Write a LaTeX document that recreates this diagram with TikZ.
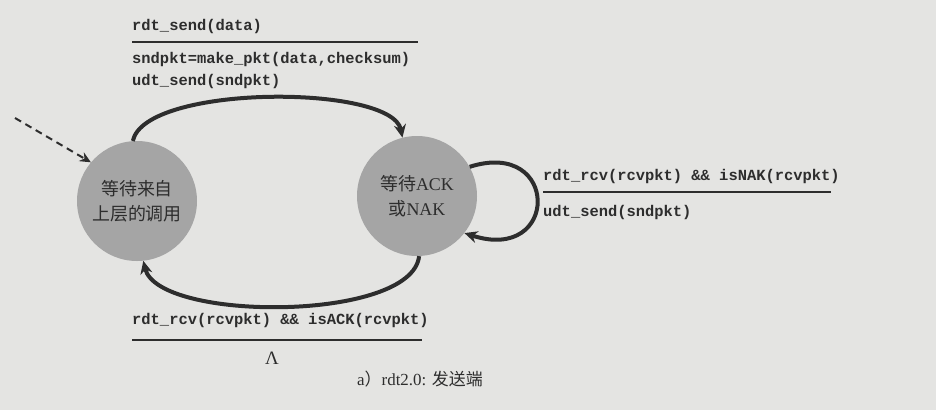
\documentclass[tikz,border=0pt]{standalone}
\usepackage{fontspec}
\setmainfont{Liberation Serif}
\setmonofont{Liberation Mono}
\newfontfamily\cjk{Noto Sans CJK SC}
\usetikzlibrary{arrows.meta}
\definecolor{bg}{RGB}{228,228,226}
\definecolor{circ}{RGB}{165,165,165}
\definecolor{ink}{RGB}{45,45,45}
\begin{document}
\begin{tikzpicture}[x=1bp,y=-1bp,
  state/.style={circle,fill=circ,minimum size=120bp,inner sep=0pt,text=ink,align=center,font=\fontsize{18}{25}\selectfont},
  trans/.style={draw=ink,line width=4bp,-{Stealth[length=13bp,width=12bp]}},
  code/.style={anchor=west,inner sep=0pt,text=ink,font=\ttfamily\bfseries\fontsize{15.5}{18}\selectfont},
  rulel/.style={draw=ink,line width=2bp},
  plain/.style={inner sep=0pt,text=ink}]
\fill[bg] (0,0) rectangle (936,410);
\useasboundingbox (0,0) rectangle (936,410);

% states
\node[state] (L) at (137,201) {{\cjk 等待来自}\\{\cjk 上层的调用}};
\node[state] (R) at (417,196) {{\cjk 等待}ACK\\{\cjk 或}NAK};

% initial dashed arrow
\coordinate (init) at (15,118);
\draw[draw=ink,line width=2bp,dash pattern=on 7bp off 5bp,-{Stealth[length=11bp,width=10bp]}] (init) -- (L.140);

% transitions
\draw[trans] (L.94) .. controls (145,84) and (392,84) .. (R.104);
\draw[trans] (R.-88) .. controls (412,322) and (158,322) .. (L.-84);
\draw[trans] (R.29) .. controls (560,138) and (560,264) .. (R.-38);

% top label
\node[code] (t1) at (132,27) {rdt\_send(data)};
\coordinate (t1a) at (132,42);
\coordinate (t1b) at (418,42);
\draw[rulel] (t1a) -- (t1b);
\node[code] (t2) at (132,60) {sndpkt=make\_pkt(data,checksum)};
\node[code] (t3) at (132,82) {udt\_send(sndpkt)};

% right label
\node[code] (r1) at (543,177) {rdt\_rcv(rcvpkt) \&\& isNAK(rcvpkt)};
\coordinate (r1a) at (543,192);
\coordinate (r1b) at (831,192);
\draw[rulel] (r1a) -- (r1b);
\node[code] (r2) at (543,212) {udt\_send(sndpkt)};

% bottom label
\node[code] (b1) at (132,320) {rdt\_rcv(rcvpkt) \&\& isACK(rcvpkt)};
\coordinate (b1a) at (132,340);
\coordinate (b1b) at (422,340);
\draw[rulel] (b1a) -- (b1b);
\node[plain,font=\fontsize{19}{20}\selectfont] (lam) at (272,358) {Λ};

% caption
\node[plain,anchor=west,font=\fontsize{17}{20}\selectfont] (cap) at (357,379) {a{\cjk ）}rdt2.0: {\cjk 发送端}};
\end{tikzpicture}
\end{document}
